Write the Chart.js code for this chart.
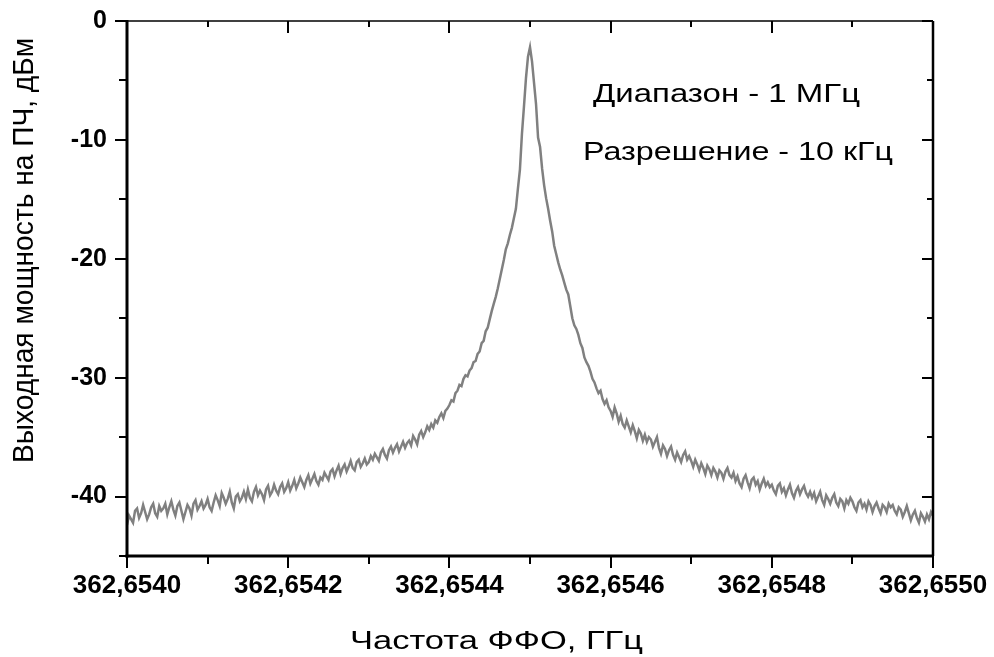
<!DOCTYPE html>
<html>
<head>
<meta charset="utf-8">
<script src="https://cdn.jsdelivr.net/npm/chart.js@4.4.0/dist/chart.umd.min.js"></script>
<style>
  html, body { margin: 0; padding: 0; background: #fff; }
</style>
</head>
<body>
<canvas id="spectrum" width="994" height="657"></canvas>
<script>
// Sweep points, kHz from the start of the span (362,6540 GHz)
const sweepKHz = [
  0, 2.5, 5, 7.5, 10, 12.5, 15, 17.5, 20, 22.5, 25, 27.5, 30, 32.5, 35, 37.5, 40, 42.5, 45, 47.5,
  50, 52.5, 55, 57.5, 60, 62.5, 65, 67.5, 70, 72.5, 75, 77.5, 80, 82.5, 85, 87.5, 90, 92.5, 95, 97.5,
  100, 102.5, 105, 107.5, 110, 112.5, 115, 117.5, 120, 122.5, 125, 127.5, 130, 132.5, 135, 137.5, 140, 142.5, 145, 147.5,
  150, 152.5, 155, 157.5, 160, 162.5, 165, 167.5, 170, 172.5, 175, 177.5, 180, 182.5, 185, 187.5, 190, 192.5, 195, 197.5,
  200, 202.5, 205, 207.5, 210, 212.5, 215, 217.5, 220, 222.5, 225, 227.5, 230, 232.5, 235, 237.5, 240, 242.5, 245, 247.5,
  250, 252.5, 255, 257.5, 260, 262.5, 265, 267.5, 270, 272.5, 275, 277.5, 280, 282.5, 285, 287.5, 290, 292.5, 295, 297.5,
  300, 302.5, 305, 307.5, 310, 312.5, 315, 317.5, 320, 322.5, 325, 327.5, 330, 332.5, 335, 337.5, 340, 342.5, 345, 347.5,
  350, 352.5, 355, 357.5, 360, 362.5, 365, 367.5, 370, 372.5, 375, 377.5, 380, 382.5, 385, 387.5, 390, 392.5, 395, 397.5,
  400, 402.5, 405, 407.5, 410, 412.5, 415, 417.5, 420, 422.5, 425, 427.5, 430, 432.5, 435, 437.5, 440, 442.5, 445, 447.5,
  450, 452.5, 455, 457.5, 460, 462.5, 465, 467.5, 470, 472.5, 475, 477.5, 480, 482.5, 485, 487.5, 490, 492.5, 495, 497.5,
  500, 502.5, 505, 507.5, 510, 512.5, 515, 517.5, 520, 522.5, 525, 527.5, 530, 532.5, 535, 537.5, 540, 542.5, 545, 547.5,
  550, 552.5, 555, 557.5, 560, 562.5, 565, 567.5, 570, 572.5, 575, 577.5, 580, 582.5, 585, 587.5, 590, 592.5, 595, 597.5,
  600, 602.5, 605, 607.5, 610, 612.5, 615, 617.5, 620, 622.5, 625, 627.5, 630, 632.5, 635, 637.5, 640, 642.5, 645, 647.5,
  650, 652.5, 655, 657.5, 660, 662.5, 665, 667.5, 670, 672.5, 675, 677.5, 680, 682.5, 685, 687.5, 690, 692.5, 695, 697.5,
  700, 702.5, 705, 707.5, 710, 712.5, 715, 717.5, 720, 722.5, 725, 727.5, 730, 732.5, 735, 737.5, 740, 742.5, 745, 747.5,
  750, 752.5, 755, 757.5, 760, 762.5, 765, 767.5, 770, 772.5, 775, 777.5, 780, 782.5, 785, 787.5, 790, 792.5, 795, 797.5,
  800, 802.5, 805, 807.5, 810, 812.5, 815, 817.5, 820, 822.5, 825, 827.5, 830, 832.5, 835, 837.5, 840, 842.5, 845, 847.5,
  850, 852.5, 855, 857.5, 860, 862.5, 865, 867.5, 870, 872.5, 875, 877.5, 880, 882.5, 885, 887.5, 890, 892.5, 895, 897.5,
  900, 902.5, 905, 907.5, 910, 912.5, 915, 917.5, 920, 922.5, 925, 927.5, 930, 932.5, 935, 937.5, 940, 942.5, 945, 947.5,
  950, 952.5, 955, 957.5, 960, 962.5, 965, 967.5, 970, 972.5, 975, 977.5, 980, 982.5, 985, 987.5, 990, 992.5, 995, 997.5,
  1000
];

// IF output power, dBm
const powerDbm = [
  -42.4, -41.6, -41.9, -42.2, -41.2, -41.0, -41.8, -41.4, -40.7, -41.3, -41.9, -41.5, -40.9, -40.6, -41.4, -41.7, -40.8, -41.2, -41.0, -40.6,
  -41.5, -40.9, -40.4, -41.1, -41.6, -40.8, -40.5, -41.2, -41.9, -41.3, -40.7, -41.0, -41.6, -40.6, -40.3, -41.1, -40.8, -40.4, -41.0, -40.7,
  -40.2, -40.9, -41.2, -40.5, -39.9, -40.3, -40.8, -39.7, -40.1, -40.6, -40.2, -39.6, -40.5, -41.0, -40.0, -39.8, -40.4, -40.1, -39.6, -40.2,
  -39.4, -40.1, -40.4, -39.6, -39.2, -39.9, -39.5, -39.8, -40.3, -39.4, -39.1, -39.9, -39.6, -39.0, -39.5, -39.8, -39.2, -38.9, -39.6, -39.3,
  -38.8, -39.5, -39.1, -38.6, -39.3, -38.9, -38.4, -38.8, -39.2, -38.6, -38.2, -38.9, -38.5, -38.1, -38.7, -39.0, -38.4, -38.6, -38.0, -38.3,
  -38.6, -37.9, -37.7, -38.3, -37.8, -37.4, -38.1, -37.6, -37.3, -37.9, -37.5, -37.0, -37.6, -37.8, -37.1, -36.9, -37.5, -37.2, -36.8, -37.3,
  -37.1, -36.6, -36.9, -36.4, -36.7, -37.0, -36.3, -36.0, -36.5, -36.8, -36.1, -35.8, -36.3, -35.9, -35.6, -36.2, -35.8, -35.4, -35.9, -35.5,
  -35.3, -35.7, -34.9, -35.2, -35.6, -34.8, -34.5, -35.0, -34.6, -34.1, -34.4, -33.9, -34.2, -33.6, -33.8, -33.3, -33.0, -33.4, -32.8, -32.6,
  -32.3, -31.9, -32.0, -31.3, -31.1, -30.6, -30.7, -30.1, -29.8, -29.9, -29.4, -29.2, -28.7, -28.6, -28.0, -27.8, -27.1, -26.9, -26.1, -25.8,
  -25.1, -24.4, -23.8, -23.2, -22.5, -21.7, -20.9, -20.1, -19.2, -18.7, -18.0, -17.4, -16.6, -15.8, -14.1, -12.5, -9.5, -7.2, -4.8, -3.0,
  -2.2, -3.4, -5.2, -7.0, -9.8, -10.6, -12.4, -13.8, -14.9, -15.8, -16.8, -17.7, -18.9, -19.6, -20.3, -20.9, -21.4, -22.0, -22.6, -23.0,
  -24.0, -25.0, -25.6, -25.9, -26.4, -27.1, -27.5, -28.3, -28.7, -29.0, -29.5, -30.1, -30.4, -30.9, -31.3, -31.1, -31.8, -32.2, -31.9, -32.5,
  -32.8, -33.3, -32.5, -33.0, -33.7, -33.2, -33.9, -34.2, -33.6, -34.1, -34.6, -34.0, -34.5, -35.1, -34.4, -34.7, -35.3, -34.8, -35.4, -35.0,
  -35.2, -35.8, -35.4, -35.0, -35.9, -36.4, -35.7, -36.0, -36.6, -36.1, -35.8, -36.5, -36.9, -36.3, -36.7, -37.1, -36.5, -36.2, -36.9, -36.6,
  -37.0, -37.5, -36.9, -37.3, -37.8, -37.2, -37.6, -38.1, -37.4, -37.7, -38.2, -37.6, -37.9, -38.4, -37.8, -38.0, -38.5, -37.9, -37.6, -38.2,
  -38.4, -38.0, -38.7, -38.3, -38.9, -39.2, -38.5, -38.2, -38.8, -39.3, -38.6, -38.4, -39.0, -38.7, -39.4, -38.9, -38.5, -39.1, -38.8, -39.2,
  -39.0, -39.5, -39.8, -39.1, -38.9, -39.6, -39.3, -39.9, -39.4, -39.0, -39.7, -40.1, -39.5, -39.2, -39.8, -39.4, -39.1, -39.7, -40.0, -39.6,
  -40.1, -39.7, -40.4, -40.0, -39.6, -40.3, -40.7, -39.9, -40.2, -40.6, -40.1, -39.8, -40.5, -40.8, -40.2, -40.4, -41.0, -40.3, -40.6, -40.1,
  -40.4, -40.9, -41.2, -40.5, -40.3, -40.9, -40.6, -41.1, -40.4, -40.7, -41.3, -40.8, -40.5, -41.0, -41.4, -40.7, -40.9, -41.3, -40.6, -40.9,
  -40.7, -41.2, -41.5, -40.9, -41.1, -41.7, -41.3, -40.8, -41.4, -42.0, -41.5, -41.2, -41.8, -42.2, -41.4, -41.7, -42.1, -41.5, -41.9, -41.3,
  -41.6
];

const xTickLabels = ['362,6540', '362,6542', '362,6544', '362,6546', '362,6548', '362,6550'];
const yTickLabels = ['0', '-10', '-20', '-30', '-40'];

const xTitle = 'Частота ФФО, ГГц';
const yTitle = 'Выходная мощность на ПЧ, дБм';
const notes = ['Диапазон - 1 МГц', 'Разрешение - 10 кГц'];

const FONT = '"Liberation Sans", Arial, sans-serif';

// draws text stretched horizontally to a given width
function fitText(ctx, text, x, y, width) {
  const w = ctx.measureText(text).width;
  ctx.save();
  ctx.translate(x, y);
  ctx.scale(width / w, 1);
  ctx.fillText(text, 0, 0);
  ctx.restore();
}

function seg(ctx, x1, y1, x2, y2) {
  ctx.beginPath();
  ctx.moveTo(x1, y1);
  ctx.lineTo(x2, y2);
  ctx.stroke();
}

// -------- Frame, tick marks, titles, notes --------
const framePlugin = {
  id: 'framePlugin',
  afterDraw(chart) {
    const { ctx, chartArea: a, scales: { x, y } } = chart;
    ctx.save();
    ctx.strokeStyle = '#000';
    ctx.lineCap = 'butt';

    // bottom ticks point out, top ticks point in
    ctx.lineWidth = 2;
    x.ticks.forEach(t => {
      const px = Math.round(x.getPixelForValue(t.value));
      const major = t.value % 200 === 0;
      seg(ctx, px, a.bottom, px, a.bottom + (major ? 12 : 8));
      seg(ctx, px, a.top, px, a.top + (major ? 12 : 6));
    });
    // left ticks point out, right ticks point in
    y.ticks.forEach(t => {
      const py = Math.round(y.getPixelForValue(t.value));
      const major = t.value % 10 === 0;
      seg(ctx, a.left, py, a.left - (major ? 12 : 8), py);
      seg(ctx, a.right, py, a.right - (major ? 11 : 6), py);
    });

    // box
    ctx.lineWidth = 1.5;
    seg(ctx, a.left, a.top, a.right, a.top);
    ctx.lineWidth = 2.5;
    seg(ctx, a.right, a.top, a.right, a.bottom);
    ctx.lineWidth = 3;
    seg(ctx, a.left, a.top - 1, a.left, a.bottom + 1.5);
    seg(ctx, a.left - 1.5, a.bottom, a.right + 1, a.bottom);

    // axis titles
    ctx.fillStyle = '#000';
    ctx.textAlign = 'left';
    ctx.textBaseline = 'alphabetic';
    ctx.font = '25px ' + FONT;
    fitText(ctx, xTitle, 350, 649, 293);

    ctx.save();
    ctx.translate(33, 463);
    ctx.rotate(-Math.PI / 2);
    ctx.font = '29px ' + FONT;
    fitText(ctx, yTitle, 0, 0, 425);
    ctx.restore();

    // notes
    ctx.font = '26px ' + FONT;
    fitText(ctx, notes[0], 593, 102, 267);
    fitText(ctx, notes[1], 583, 160, 310);

    ctx.restore();
  }
};

new Chart(document.getElementById('spectrum'), {
  type: 'line',
  data: {
    datasets: [{
      data: sweepKHz.map((k, i) => ({ x: k, y: powerDbm[i] })),
      borderColor: '#808080',
      borderWidth: 2.5,
      pointRadius: 0,
      tension: 0,
      fill: false
    }]
  },
  options: {
    responsive: false,
    animation: false,
    devicePixelRatio: 1,
    layout: { padding: { top: 21, right: 61, left: 0, bottom: 0 } },
    plugins: { legend: { display: false }, tooltip: { enabled: false } },
    scales: {
      x: {
        type: 'linear',
        min: 0,
        max: 1000,
        afterFit: s => {
          s.height = 101;
          s.paddingLeft = 0;
          s.paddingRight = 0;
        },
        border: { display: false },
        grid: { display: false, drawTicks: false },
        ticks: {
          stepSize: 100,
          autoSkip: false,
          maxRotation: 0,
          padding: 14,
          color: '#000',
          font: { family: FONT, size: 26, weight: 'bold' },
          callback: v => (v % 200 === 0 ? xTickLabels[v / 200] : '')
        }
      },
      y: {
        min: -45,
        max: 0,
        afterFit: s => {
          s.width = 127;
          s.paddingTop = 0;
          s.paddingBottom = 0;
        },
        border: { display: false },
        grid: { display: false, drawTicks: false },
        ticks: {
          stepSize: 5,
          autoSkip: false,
          padding: 20,
          color: '#000',
          font: { family: FONT, size: 25, weight: 'bold' },
          callback: v => (v % 10 === 0 ? yTickLabels[Math.round(-v / 10)] : '')
        }
      }
    }
  },
  plugins: [framePlugin]
});
</script>
</body>
</html>
